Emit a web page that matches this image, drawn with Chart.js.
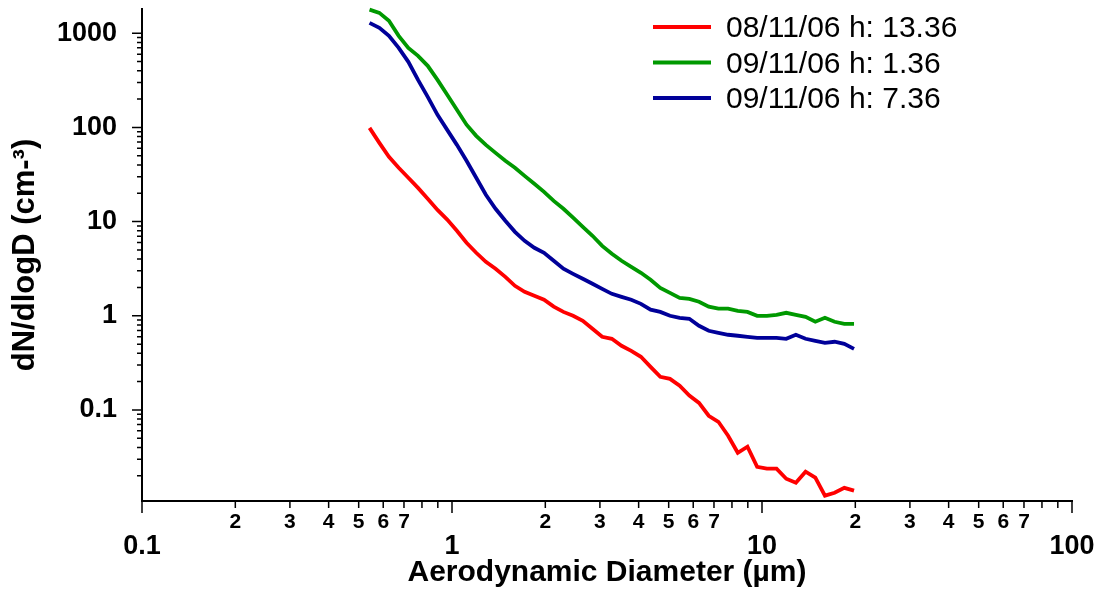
<!DOCTYPE html>
<html>
<head>
<meta charset="utf-8">
<script src="https://cdn.jsdelivr.net/npm/chart.js@4"></script>
<style>
  html, body { margin: 0; padding: 0; background: #fff; }
  #sizeChart { display: block; }
</style>
</head>
<body>
<canvas id="sizeChart" width="1101" height="589"></canvas>
<script>
// APS channel mid points (µm)
var diameters = [0.542, 0.583, 0.626, 0.673, 0.723, 0.777, 0.835, 0.898, 0.965, 1.037,
  1.114, 1.197, 1.286, 1.382, 1.486, 1.596, 1.715, 1.843, 1.981, 2.129,
  2.288, 2.458, 2.642, 2.839, 3.051, 3.278, 3.523, 3.786, 4.068, 4.371,
  4.698, 5.048, 5.425, 5.829, 6.264, 6.732, 7.234, 7.774, 8.354, 8.977,
  9.647, 10.37, 11.14, 11.97, 12.86, 13.82, 14.86, 15.96, 17.15, 18.43, 19.81];

// dN/dlogD (cm-3)
var conc_081106_1336 = [99, 68.6, 48.7, 37.3, 29.2, 22.8, 17.5, 13.3, 10.5, 7.99,
  5.96, 4.67, 3.74, 3.16, 2.59, 2.08, 1.80, 1.63, 1.48, 1.25,
  1.10, 1.00, 0.885, 0.728, 0.598, 0.570, 0.480, 0.425, 0.367, 0.287,
  0.225, 0.214, 0.181, 0.142, 0.119, 0.0868, 0.0749, 0.0532, 0.0351, 0.0407,
  0.0249, 0.0238, 0.0238, 0.0186, 0.0169, 0.0221, 0.0191, 0.0123, 0.0132, 0.0149, 0.0139];
var conc_091106_0136 = [1780, 1648, 1355, 938, 700, 575, 451, 320, 222, 154,
  107, 81.5, 65.3, 53.7, 44.2, 37.3, 30.6, 25.2, 20.7, 16.6,
  13.7, 11.0, 8.81, 7.07, 5.53, 4.55, 3.84, 3.31, 2.86, 2.41,
  1.98, 1.75, 1.55, 1.51, 1.41, 1.25, 1.19, 1.19, 1.13, 1.10,
  1.00, 1.00, 1.025, 1.076, 1.025, 0.976, 0.864, 0.952, 0.864, 0.822, 0.822];
var conc_091106_0736 = [1290, 1141, 938, 700, 497, 320, 211, 136, 94.3, 65.3,
  44.2, 29.2, 19.3, 13.7, 10.2, 7.79, 6.25, 5.27, 4.67, 3.84,
  3.16, 2.79, 2.47, 2.19, 1.93, 1.71, 1.59, 1.48, 1.34, 1.16,
  1.10, 1.00, 0.952, 0.929, 0.783, 0.693, 0.660, 0.629, 0.614, 0.598,
  0.584, 0.584, 0.584, 0.570, 0.629, 0.570, 0.543, 0.517, 0.530, 0.504, 0.446];

var seriesLabels = ['08/11/06 h: 13.36', '09/11/06 h: 1.36', '09/11/06 h: 7.36'];
var seriesColors = ['#ff0000', '#009900', '#000099'];

var xTicks = [0.1, 0.2, 0.3, 0.4, 0.5, 0.6, 0.7, 0.8, 0.9,
  1, 2, 3, 4, 5, 6, 7, 8, 9,
  10, 20, 30, 40, 50, 60, 70, 80, 90, 100];
var yTicks = [0.02, 0.03, 0.04, 0.05, 0.06, 0.07, 0.08, 0.09,
  0.1, 0.2, 0.3, 0.4, 0.5, 0.6, 0.7, 0.8, 0.9,
  1, 2, 3, 4, 5, 6, 7, 8, 9,
  10, 20, 30, 40, 50, 60, 70, 80, 90,
  100, 200, 300, 400, 500, 600, 700, 800, 900, 1000];

var FONT = '"Liberation Sans", Arial, sans-serif';

function mantissa(v) {
  var e = Math.floor(Math.log10(v) + 1e-9);
  return Math.round(v / Math.pow(10, e));
}

function toPoints(values) {
  return diameters.map(function (d, i) { return { x: d, y: values[i] }; });
}

// short/long tick marks drawn off the scales
var tickMarks = {
  id: 'tickMarks',
  afterDraw: function (chart) {
    var ctx = chart.ctx, xs = chart.scales.x, ys = chart.scales.y;
    ctx.save();
    ctx.strokeStyle = '#000';
    ctx.lineWidth = 1.5;
    ctx.beginPath();
    xs.ticks.forEach(function (t) {
      var px = xs.getPixelForValue(t.value);
      ctx.moveTo(px, xs.top);
      ctx.lineTo(px, xs.top + (t.major ? 12 : 7));
    });
    ys.ticks.forEach(function (t) {
      var py = ys.getPixelForValue(t.value);
      ctx.moveTo(ys.right, py);
      ctx.lineTo(ys.right - (t.major ? 10 : 5), py);
    });
    ctx.stroke();
    ctx.restore();
  }
};

var seriesLegend = {
  id: 'seriesLegend',
  afterDatasetsDraw: function (chart) {
    var ctx = chart.ctx, area = chart.chartArea;
    ctx.save();
    ctx.font = '30px ' + FONT;
    ctx.textBaseline = 'middle';
    chart.data.datasets.forEach(function (ds, i) {
      var y = area.top + 18 + i * 35.5;
      ctx.strokeStyle = ds.borderColor;
      ctx.lineWidth = 4;
      ctx.beginPath();
      ctx.moveTo(653, y);
      ctx.lineTo(711, y);
      ctx.stroke();
      ctx.fillStyle = '#000';
      ctx.fillText(ds.label, 726, y + 2);
    });
    ctx.restore();
  }
};

var allSeries = [conc_081106_1336, conc_091106_0136, conc_091106_0736];

var myChart = new Chart(document.getElementById('sizeChart'), {
  type: 'line',
  data: {
    datasets: allSeries.map(function (vals, i) {
      return {
        label: seriesLabels[i],
        data: toPoints(vals),
        borderColor: seriesColors[i],
        backgroundColor: seriesColors[i],
        borderWidth: 3.8,
        pointRadius: 0,
        tension: 0,
        fill: false,
        clip: false
      };
    })
  },
  options: {
    responsive: false,
    animation: false,
    layout: { padding: { left: 0, right: 29, top: 9, bottom: 0 } },
    plugins: {
      legend: { display: false },
      tooltip: { enabled: false }
    },
    scales: {
      x: {
        type: 'logarithmic',
        position: 'bottom',
        min: 0.1,
        max: 100,
        afterBuildTicks: function (axis) {
          axis.ticks = xTicks.map(function (v) { return { value: v, major: mantissa(v) === 1 }; });
        },
        afterFit: function (axis) {
          axis.height = 88;
          axis.paddingLeft = 0;
          axis.paddingRight = 0;
        },
        grid: { display: false, drawTicks: false, tickLength: 0 },
        border: { display: true, color: '#000', width: 2 },
        ticks: {
          autoSkip: false,
          maxRotation: 0,
          minRotation: 0,
          padding: 10,
          color: '#000',
          font: function (c) {
            if (c.tick && c.tick.major) {
              return { family: FONT, size: 27, weight: 'bold', lineHeight: 0.88 };
            }
            return { family: FONT, size: 21, weight: 'bold', lineHeight: 1.1 };
          },
          callback: function (value) {
            var m = mantissa(value);
            if (m === 1) return ['', String(value)];
            return m <= 7 ? String(m) : '';
          }
        },
        title: {
          display: true,
          text: 'Aerodynamic Diameter (µm)',
          color: '#000',
          font: { family: FONT, size: 30, weight: 'bold', lineHeight: 1.1 },
          padding: { top: 0, bottom: 0 }
        }
      },
      y: {
        type: 'logarithmic',
        position: 'left',
        min: 0.0108,
        max: 1810,
        afterBuildTicks: function (axis) {
          axis.ticks = yTicks.map(function (v) { return { value: v, major: mantissa(v) === 1 }; });
        },
        afterFit: function (axis) {
          axis.width = 142;
          axis.paddingTop = 0;
          axis.paddingBottom = 0;
        },
        grid: { display: false, drawTicks: false, tickLength: 0 },
        border: { display: true, color: '#000', width: 2 },
        ticks: {
          autoSkip: false,
          padding: 25,
          color: '#000',
          font: { family: FONT, size: 27, weight: 'bold' },
          callback: function (value) {
            return mantissa(value) === 1 ? String(value) : '';
          }
        },
        title: {
          display: true,
          text: 'dN/dlogD (cm-³)',
          color: '#000',
          font: { family: FONT, size: 31, weight: 'bold', lineHeight: 1.2 },
          padding: { top: 7, bottom: 0 }
        }
      }
    }
  },
  plugins: [tickMarks, seriesLegend]
});
</script>
</body>
</html>
